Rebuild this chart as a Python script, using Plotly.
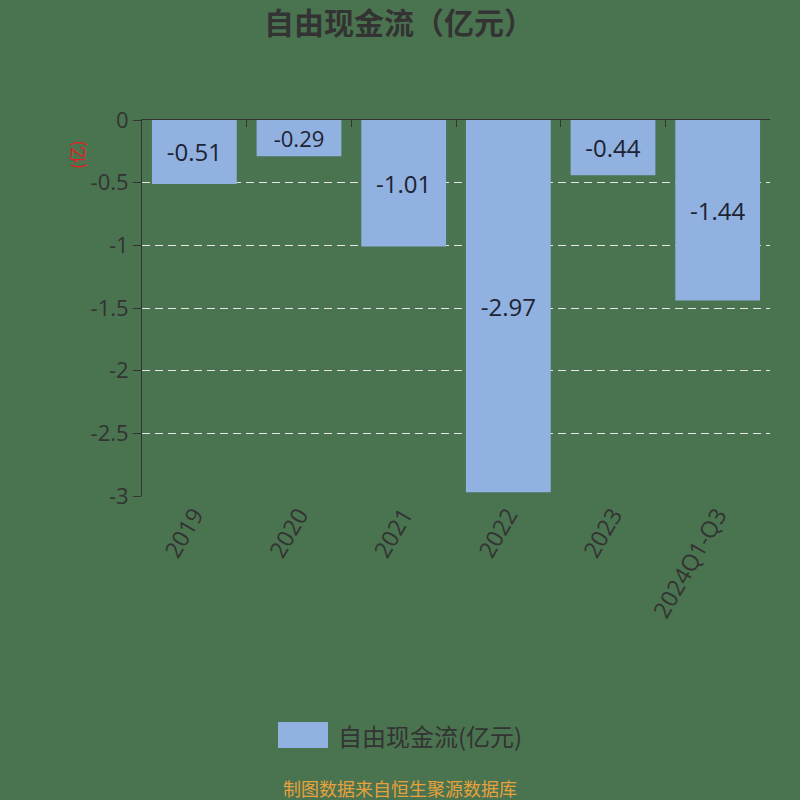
import plotly.graph_objects as go

# chart data
years = ["2019", "2020", "2021", "2022", "2023", "2024Q1-Q3"]
fcf = [-0.51, -0.29, -1.01, -2.97, -0.44, -1.44]
ytick_vals = [0, -0.5, -1, -1.5, -2, -2.5, -3]
ytick_text = ["0", "-0.5", "-1", "-1.5", "-2", "-2.5", "-3"]

bg = "#4a7350"
bar_color = "#91b1e0"
dark = "#333333"
font_family = "Open Sans, Noto Sans CJK SC, sans-serif"
cjk = "Noto Sans CJK SC"

fig = go.Figure()

fig.add_trace(go.Bar(
    x=years, y=fcf,
    text=[str(v) for v in fcf],
    textposition="inside",
    insidetextanchor="middle",
    textangle=0,
    textfont=dict(size=24, color="#1c2333", family=font_family),
    marker=dict(color=bar_color, line=dict(width=0)),
    name="自由现金流(亿元)",
    showlegend=False,
))

# invisible trace so the top category axis gets its ticks
fig.add_trace(go.Scatter(
    x=years, y=[0] * len(years), xaxis="x2", mode="markers",
    marker=dict(opacity=0), showlegend=False, hoverinfo="skip",
))

fig.update_layout(
    width=800, height=800,
    paper_bgcolor=bg, plot_bgcolor=bg,
    margin=dict(l=142, r=30, t=120, b=304),
    bargap=0.19,
    font=dict(family=font_family, color=dark),
    title=dict(
        text="<b>自由现金流（亿元）</b>",
        x=399 / 800, xanchor="center", y=1 - 23 / 800, yanchor="middle",
        font=dict(size=30, color=dark, family=cjk),
    ),
    xaxis=dict(
        type="category", categoryorder="array", categoryarray=years,
        range=[-0.5, 5.5],
        showline=False, showgrid=False, ticks="", zeroline=False,
        tickangle=-60, tickfont=dict(size=23, color=dark),
    ),
    xaxis2=dict(
        type="category", categoryorder="array", categoryarray=years,
        overlaying="x", anchor="y", side="top", matches="x",
        showline=True, linecolor=dark, linewidth=1,
        ticks="inside", tickson="boundaries", ticklen=7, tickcolor=dark,
        showticklabels=False, showgrid=False, zeroline=False,
    ),
    yaxis=dict(
        range=[-3, 0],
        tickvals=ytick_vals, ticktext=ytick_text,
        showline=True, linecolor=dark, linewidth=1,
        ticks="outside", ticklen=8, tickcolor=dark,
        tickfont=dict(size=22, color=dark),
        showgrid=True, gridcolor="#e6e6e6", gridwidth=1, griddash="8px,5px",
        zeroline=False,
    ),
    showlegend=False,
)

# y axis unit label
fig.add_annotation(
    text="(亿)", xref="paper", yref="paper",
    x=(76 - 142) / 628, y=(496 - 155) / 376,
    xanchor="center", yanchor="middle",
    showarrow=False, textangle=-90,
    font=dict(size=17, color="#e02020", family=cjk),
)

# legend drawn by hand to get the wide rounded key
fig.add_shape(
    type="rect", xref="paper", yref="paper",
    x0=(278 - 142) / 628, x1=(328 - 142) / 628,
    y0=(496 - 748) / 376, y1=(496 - 722) / 376,
    fillcolor=bar_color, line=dict(width=0),
)
fig.add_annotation(
    text="自由现金流(亿元)", xref="paper", yref="paper",
    x=(336 - 142) / 628, y=(496 - 735) / 376,
    xanchor="left", yanchor="middle", showarrow=False,
    font=dict(size=24, color=dark, family=cjk),
)

# source note
fig.add_annotation(
    text="制图数据来自恒生聚源数据库", xref="paper", yref="paper",
    x=(400 - 142) / 628, y=(496 - 788) / 376,
    xanchor="center", yanchor="middle", showarrow=False,
    font=dict(size=18, color="#e6a23c", family=cjk),
)

fig.write_html("out.html", config={"displayModeBar": False},
               post_script="document.body.style.margin='0';")
